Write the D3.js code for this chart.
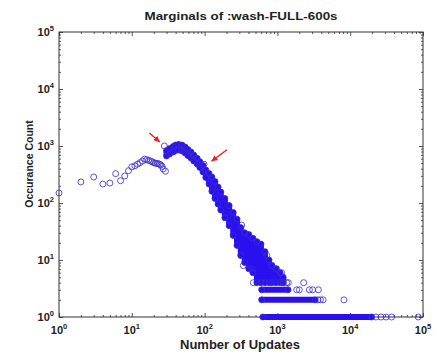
<!DOCTYPE html>
<html>
<head>
<meta charset="utf-8">
<script src="https://cdn.jsdelivr.net/npm/d3@7"></script>
<style>
  body { margin: 0; background: #fff; }
  svg { display: block; font-family: "Liberation Sans", Arial, Helvetica, sans-serif; }
</style>
</head>
<body>
<div id="chart"></div>
<script>
// low update counts, one circle each
const lowUpdates = [1, 2, 3, 4, 5, 6, 7, 8, 9, 10, 11, 12, 13, 14, 15, 16, 17, 18, 19, 20, 21, 22, 23, 24, 25, 26, 27, 28, 29];
const lowCounts = [150, 234, 286, 215, 224, 327, 246, 298, 369, 430, 450, 480, 510, 545, 590, 575, 560, 545, 530, 510, 500, 495, 490, 480, 465, 440, 395, 1000, 360];

// the dense ridge: spread of counts around each update value
const ridgeUpdates = [30, 33, 37, 40, 44, 49, 54, 59, 65, 71, 79, 86, 95, 104, 115, 126, 139, 153, 167, 190, 217, 247, 279, 314, 356, 405, 460, 523, 594, 675, 767, 842, 955, 1085, 1200];
const ridgeMin = [670, 725, 785, 835, 850, 815, 755, 680, 615, 545, 485, 420, 350, 280, 215, 160, 120, 96, 75, 55, 40, 27, 18, 12, 9, 7, 6, 4, 4, 4, 4, 4, 4, 4, 4];
const ridgeMax = [830, 900, 980, 1040, 1065, 1040, 960, 870, 785, 695, 610, 530, 455, 380, 330, 285, 238, 191, 156, 120, 90, 68, 52, 37, 30, 28, 24, 21, 19, 14, 10, 8, 7, 6, 5];

// counts of 1, 2 and 3 run together into bars
const rowCounts = [1, 2, 3];
const rowStart = [630, 608, 608];
const rowEnd = [19700, 3300, 1400];

// scattered circles
const strayUpdates = [98, 323, 340, 444, 467, 713, 835, 980, 1140, 1200, 1342, 1413, 2300, 1840, 2000, 2750, 3050, 3650, 3600, 3900, 4250, 8200, 22600, 26500, 31000, 37000, 86000];
const strayCounts = [478, 41, 8, 7, 4, 12, 8, 7, 6, 4, 4, 4, 4, 3, 3, 3, 3, 3, 2, 2, 2, 2, 1, 1, 1, 1, 1];

// the two points marked with red arrows
const markedUpdates = [28, 98];
const markedCounts = [1000, 478];

const decades = [0, 1, 2, 3, 4, 5];

const W = 439, H = 355;
const box = { left: 59, right: 423, top: 32, bottom: 317 };
const blue = '#2a10ee';

const svg = d3.select('#chart').append('svg')
  .attr('width', W)
  .attr('height', H);

const x = d3.scaleLog().domain([1, 1e5]).range([box.left, box.right]);
const y = d3.scaleLog().domain([1, 1e5]).range([box.bottom, box.top]);

const majors = decades.map(d => Math.pow(10, d));
const minors = [];
decades.slice(0, -1).forEach(d => {
  for (let k = 2; k < 10; k++) minors.push(k * Math.pow(10, d));
});

// ticks on all four sides, pointing in
function ticks(axis, vals, size) {
  return g => g.call(axis.tickValues(vals).tickSize(size).tickFormat(''))
    .call(g => g.select('.domain').remove())
    .call(g => g.selectAll('line').attr('stroke', '#555'));
}
[[minors, -2], [majors, -4]].forEach(([vals, size]) => {
  svg.append('g').attr('transform', `translate(0,${box.bottom})`).call(ticks(d3.axisBottom(x), vals, size));
  svg.append('g').attr('transform', `translate(0,${box.top})`).call(ticks(d3.axisTop(x), vals, size));
  svg.append('g').attr('transform', `translate(${box.left},0)`).call(ticks(d3.axisLeft(y), vals, size));
  svg.append('g').attr('transform', `translate(${box.right},0)`).call(ticks(d3.axisRight(y), vals, size));
});

svg.append('rect')
  .attr('x', box.left)
  .attr('y', box.top)
  .attr('width', box.right - box.left)
  .attr('height', box.bottom - box.top)
  .attr('fill', 'none')
  .attr('stroke', '#333')
  .attr('stroke-width', 1);

// tick labels as 10 with superscript
function powLabel(sel) {
  sel.append('tspan').text('10');
  sel.append('tspan')
    .attr('dy', -5)
    .style('font-size', '7.5px')
    .text(d => d);
}

svg.selectAll('.xlab')
  .data(decades)
  .enter()
  .append('text')
  .attr('class', 'xlab')
  .attr('x', d => x(Math.pow(10, d)))
  .attr('y', 333.5)
  .attr('text-anchor', 'middle')
  .style('font-size', '11px')
  .style('font-weight', 'bold')
  .attr('fill', '#222')
  .call(powLabel);

svg.selectAll('.ylab')
  .data(decades)
  .enter()
  .append('text')
  .attr('class', 'ylab')
  .attr('x', 54)
  .attr('y', d => y(Math.pow(10, d)) + 4)
  .attr('text-anchor', 'end')
  .style('font-size', '11px')
  .style('font-weight', 'bold')
  .attr('fill', '#222')
  .call(powLabel);

// dense part: overlapping markers drawn as thick strokes
ridgeUpdates.forEach((u, i) => {
  svg.append('line')
    .attr('x1', x(u))
    .attr('x2', x(u))
    .attr('y1', y(ridgeMin[i]))
    .attr('y2', y(ridgeMax[i]))
    .attr('stroke', blue)
    .attr('stroke-width', 6)
    .attr('stroke-linecap', 'round');
});

rowCounts.forEach((c, i) => {
  svg.append('line')
    .attr('x1', x(rowStart[i]))
    .attr('x2', x(rowEnd[i]))
    .attr('y1', y(c))
    .attr('y2', y(c))
    .attr('stroke', blue)
    .attr('stroke-width', 6)
    .attr('stroke-linecap', 'round');
});

const circles = [];
lowUpdates.forEach((u, i) => circles.push([u, lowCounts[i]]));
ridgeUpdates.forEach((u, i) => {
  circles.push([u, ridgeMin[i]]);
  circles.push([u, ridgeMax[i]]);
});
rowCounts.forEach((c, i) => {
  circles.push([rowStart[i], c]);
  circles.push([rowEnd[i], c]);
});
strayUpdates.forEach((u, i) => circles.push([u, strayCounts[i]]));

svg.selectAll('.pt')
  .data(circles)
  .enter()
  .append('circle')
  .attr('class', 'pt')
  .attr('cx', d => x(d[0]))
  .attr('cy', d => y(d[1]))
  .attr('r', 3)
  .attr('fill', 'none')
  .attr('stroke', '#3a2ad0')
  .attr('stroke-opacity', 0.8)
  .attr('stroke-width', 1);

// red arrows pointing at the two marked points
svg.append('defs').append('marker')
  .attr('id', 'head')
  .attr('markerUnits', 'userSpaceOnUse')
  .attr('markerWidth', 8)
  .attr('markerHeight', 8)
  .attr('refX', 6)
  .attr('refY', 3)
  .attr('orient', 'auto')
  .append('path')
  .attr('d', 'M0,0 L6,3 L0,6 Z')
  .attr('fill', '#ee1c1c');

const arrowFrom = [[-15, -13], [23, -14.5]];
const arrowTo = [[-4.5, -4], [7.5, -3]];
markedUpdates.forEach((u, i) => {
  const px = x(u), py = y(markedCounts[i]);
  svg.append('line')
    .attr('x1', px + arrowFrom[i][0])
    .attr('y1', py + arrowFrom[i][1])
    .attr('x2', px + arrowTo[i][0])
    .attr('y2', py + arrowTo[i][1])
    .attr('stroke', '#ee1c1c')
    .attr('stroke-width', 1.4)
    .attr('marker-end', 'url(#head)');
});

svg.append('text')
  .attr('x', (box.left + box.right) / 2)
  .attr('y', 20)
  .attr('text-anchor', 'middle')
  .style('font-size', '11.5px')
  .style('font-weight', 'bold')
  .attr('fill', '#222')
  .attr('textLength', 193)
  .attr('lengthAdjust', 'spacingAndGlyphs')
  .text('Marginals of :wash-FULL-600s');

svg.append('text')
  .attr('x', 240)
  .attr('y', 348.5)
  .attr('text-anchor', 'middle')
  .style('font-size', '12px')
  .style('font-weight', 'bold')
  .attr('fill', '#222')
  .attr('textLength', 120)
  .attr('lengthAdjust', 'spacingAndGlyphs')
  .text('Number of Updates');

svg.append('text')
  .attr('transform', 'translate(32.5,164) rotate(-90)')
  .attr('text-anchor', 'middle')
  .style('font-size', '10.5px')
  .style('font-weight', 'bold')
  .attr('fill', '#222')
  .text('Occurance Count');
</script>
</body>
</html>
